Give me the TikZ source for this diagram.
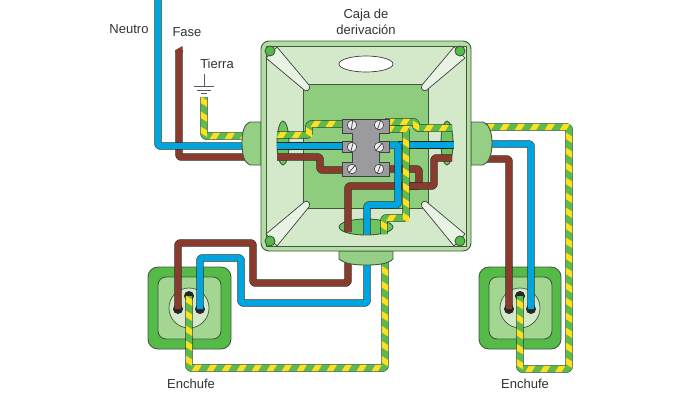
\documentclass[tikz,border=0pt]{standalone}
\usepackage{fontspec}
\setmainfont{Liberation Sans}
\usetikzlibrary{decorations.markings}
\definecolor{edge}{HTML}{3F5A3C}
\definecolor{rimc}{HTML}{B4DDA4}
\definecolor{panelc}{HTML}{D3E9C9}
\definecolor{wellc}{HTML}{8ECC7E}
\definecolor{tubec}{HTML}{E9F3E3}
\definecolor{brightg}{HTML}{55BA48}
\definecolor{glandc}{HTML}{95CF85}
\definecolor{sockm}{HTML}{A3D691}
\definecolor{bluew}{HTML}{00A5E0}
\definecolor{brownw}{HTML}{8A3B2E}
\definecolor{greenw}{HTML}{5CBB4C}
\definecolor{yelw}{HTML}{FFE020}
\definecolor{blockc}{HTML}{9A9A9F}
\tikzset{
  wireedge/.style={line width=7.4pt,draw=black!55!edge,rounded corners=2pt,line join=round},
  wirecore/.style={line width=6.4pt,rounded corners=2pt,line join=round},
  stripes/.style={postaction={decorate},decoration={markings,mark=between positions 4pt and -2pt step 15pt with {
     \fill[yelw] (-4.5pt,-3.2pt)--(2pt,-3.2pt)--(6pt,3.2pt)--(-0.5pt,3.2pt)--cycle;}}},
  shell/.style={draw=edge,line width=0.9pt},
  tube/.style={draw=black!75,fill=tubec,line width=0.7pt,line join=round},
  label/.style={font=\fontsize{13}{16}\selectfont,text=black!80,inner sep=0pt,align=center},
  screwhead/.style={circle,draw=black!75,fill=black!8,line width=0.6pt,minimum size=9.5pt,inner sep=0pt},
  cornerpin/.style={circle,draw=edge,fill=brightg,line width=0.9pt,minimum size=10pt,inner sep=0pt},
  contact/.style={circle,fill=black!85,minimum size=10pt,inner sep=0pt},
  socketo/.style={draw=edge,fill=brightg,line width=0.9pt,rounded corners=10pt},
  socketm/.style={draw=edge,fill=sockm,line width=0.9pt,rounded corners=8pt},
  socketc/.style={circle,draw=edge,fill=panelc,line width=0.7pt,minimum size=40pt,inner sep=0pt},
}
\newcommand{\wirepath}[2]{\draw[wireedge] #2; \draw[wirecore,draw=#1] #2;}
\newcommand{\earthpath}[1]{\draw[wireedge] #1; \draw[wirecore,draw=greenw] #1; \path[stripes] #1;}
\begin{document}
\begin{tikzpicture}[x=1pt,y=-1pt]
\useasboundingbox[fill=white] (0,0) rectangle (690,400);
% anchors
\coordinate (glLb) at (250,146); \coordinate (glLf) at (250,157); \coordinate (glLe) at (250,136);
\coordinate (glRb) at (485,144); \coordinate (glRf) at (485,159); \coordinate (glRe) at (485,127);
\coordinate (glBf) at (348,258); \coordinate (glBb) at (367,258); \coordinate (glBe) at (385,258);
% sockets
\draw[socketo] (148,267) rectangle (231,349);
\draw[socketm] (158,277) rectangle (221,339);
\node[socketc] (sockL) at (189,308) {};
\draw[socketo] (479,267) rectangle (561,349);
\draw[socketm] (489,277) rectangle (552,339);
\node[socketc] (sockR) at (520,308) {};
\node[contact] (cLf) at (178,309) {}; \node[contact] (cLb) at (200,309) {}; \node[contact] (cLe) at (189,296) {};
\node[contact] (cRf) at (509,309) {}; \node[contact] (cRb) at (531,309) {}; \node[contact] (cRe) at (520,296) {};
% supply wires
\fill[brownw] (175.5,50)--(182.5,46)--(182.5,52)--(175.5,52)--cycle;
\wirepath{brownw}{(179,50) |- (glLf)}
\wirepath{bluew}{(158,-4) |- (glLb)}
\earthpath{(204,97) |- (glLe)}
% ground symbol
\node[label] (tierra) at (217,64) {Tierra};
\coordinate (gnd) at (204,86);
\draw[black!65,line width=0.7pt] (204,74) -- (gnd);
\draw[black!65,line width=0.8pt] (194,86) -- (214,86) (197,90) -- (211,90) (201,93) -- (207,93);
% outgoing wires
\wirepath{brownw}{(cLf.center) -- (178,243) -- (253,243) -- (253,283) -- (348,283) -- (glBf)}
\wirepath{bluew}{(cLb.center) -- (200,258) -- (241,258) -- (241,303) -- (367,303) -- (glBb)}
\earthpath{(cLe.center) -- (189,368) -- (385,368) -- (glBe)}
\wirepath{brownw}{(cRf.center) -- (509,159) -- (glRf)}
\wirepath{bluew}{(cRb.center) -- (531,144) -- (glRb)}
\earthpath{(glRe) -- (569,127) -- (569,369) -- (520,369) -- (cRe.center)}
% glands
\draw[shell,fill=glandc] (261,122) -- (250,122) .. controls (244,124) and (242,132) .. (242,143) .. controls (242,154) and (244,163) .. (250,165) -- (261,165) -- cycle;
\draw[shell,fill=glandc] (471,122) -- (483,122) .. controls (489,124) and (492,132) .. (492,143) .. controls (492,154) and (489,163) .. (483,165) -- (471,165) -- cycle;
\draw[shell,fill=glandc] (339,251) -- (339,259) .. controls (345,264) and (355,265) .. (366,265) .. controls (378,265) and (388,264) .. (393,259) -- (393,251) -- cycle;
% box
\draw[shell,fill=rimc,rounded corners=8pt] (261,41) rectangle (471,251);
\draw[draw=edge,line width=0.8pt,fill=panelc] (266,46) rectangle (466,246);
\draw[shell,fill=wellc] (303,84) rectangle (428,208);
\draw[tube] (277,47) -- (309,85) .. controls (312,90) and (305,93) .. (303,89) -- (266,58) -- cycle;
\draw[tube] (454,47) -- (422,85) .. controls (419,90) and (426,93) .. (428,89) -- (465,58) -- cycle;
\draw[tube] (277,246) -- (309,207) .. controls (312,202) and (305,199) .. (303,203) -- (266,234) -- cycle;
\draw[tube] (454,246) -- (422,207) .. controls (419,202) and (426,199) .. (428,203) -- (465,234) -- cycle;
\node[cornerpin] (pinA) at (270,51) {};
\node[cornerpin] (pinB) at (460,51) {};
\node[cornerpin] (pinC) at (270,241) {};
\node[cornerpin] (pinD) at (460,241) {};
\draw[draw=black!75,fill=white,line width=0.7pt] (366,64) ellipse[x radius=27,y radius=8];
\draw[shell,fill=brightg!85!white] (366,227) ellipse[x radius=27,y radius=8];
\draw[shell,fill=brightg!85!white] (283,143) ellipse[x radius=6,y radius=22];
\draw[shell,fill=brightg!85!white] (447,143) ellipse[x radius=6,y radius=22];
% inner wires
\coordinate (blL) at (345,124);
\wirepath{brownw}{(277,157) -- (320,157) -- (320,170) -- (345,170)}
\wirepath{brownw}{(385,169) -- (419,169) -- (419,186) -- (348,186) -- (348,232)}
\wirepath{brownw}{(452,158) -- (434,158) -- (434,186) -- (400,186)}
\wirepath{bluew}{(277,146) -- (345,146)}
\wirepath{bluew}{(398,145) -- (454,145)}
\wirepath{bluew}{(385,145) -- (398,145) -- (398,205) -- (367,205) -- (367,234)}
\earthpath{(277,135) -- (309,135) -- (309,124) -- (blL)}
\earthpath{(385,122) -- (416,122) -- (416,128) -- (452,128)}
\earthpath{(385,129) -- (406,129) -- (406,218) -- (384,218) -- (384,234)}
% terminal block
\draw[draw=black!75,fill=blockc,line width=0.8pt,line join=round] (342,119) -- (389,119) -- (389,133) -- (379,133) -- (379,141) -- (389,141) -- (389,152) -- (379,152) -- (379,162) -- (389,162) -- (389,176) -- (342,176) -- (342,162) -- (352,162) -- (352,152) -- (342,152) -- (342,141) -- (352,141) -- (352,133) -- (342,133) -- cycle;
\foreach \nm/\px/\py/\ang in {sa/352/125/80,sb/379/125/70,sc/352/147/75,sd/379/147/50,se/352/169/50,sf/379/169/70}{
  \node[screwhead] (\nm) at (\px,\py) {};
  \draw[black!75,line width=0.7pt] (\nm.\ang) -- (\nm.\ang+180);
}
% labels
\node[label] (neutro) at (129,29) {Neutro};
\node[label] (fase) at (187,32) {Fase};
\node[label] (caja) at (366,22) {Caja de\\derivación};
\node[label] (enchL) at (191,384) {Enchufe};
\node[label] (enchR) at (525,384) {Enchufe};
\end{tikzpicture}
\end{document}
